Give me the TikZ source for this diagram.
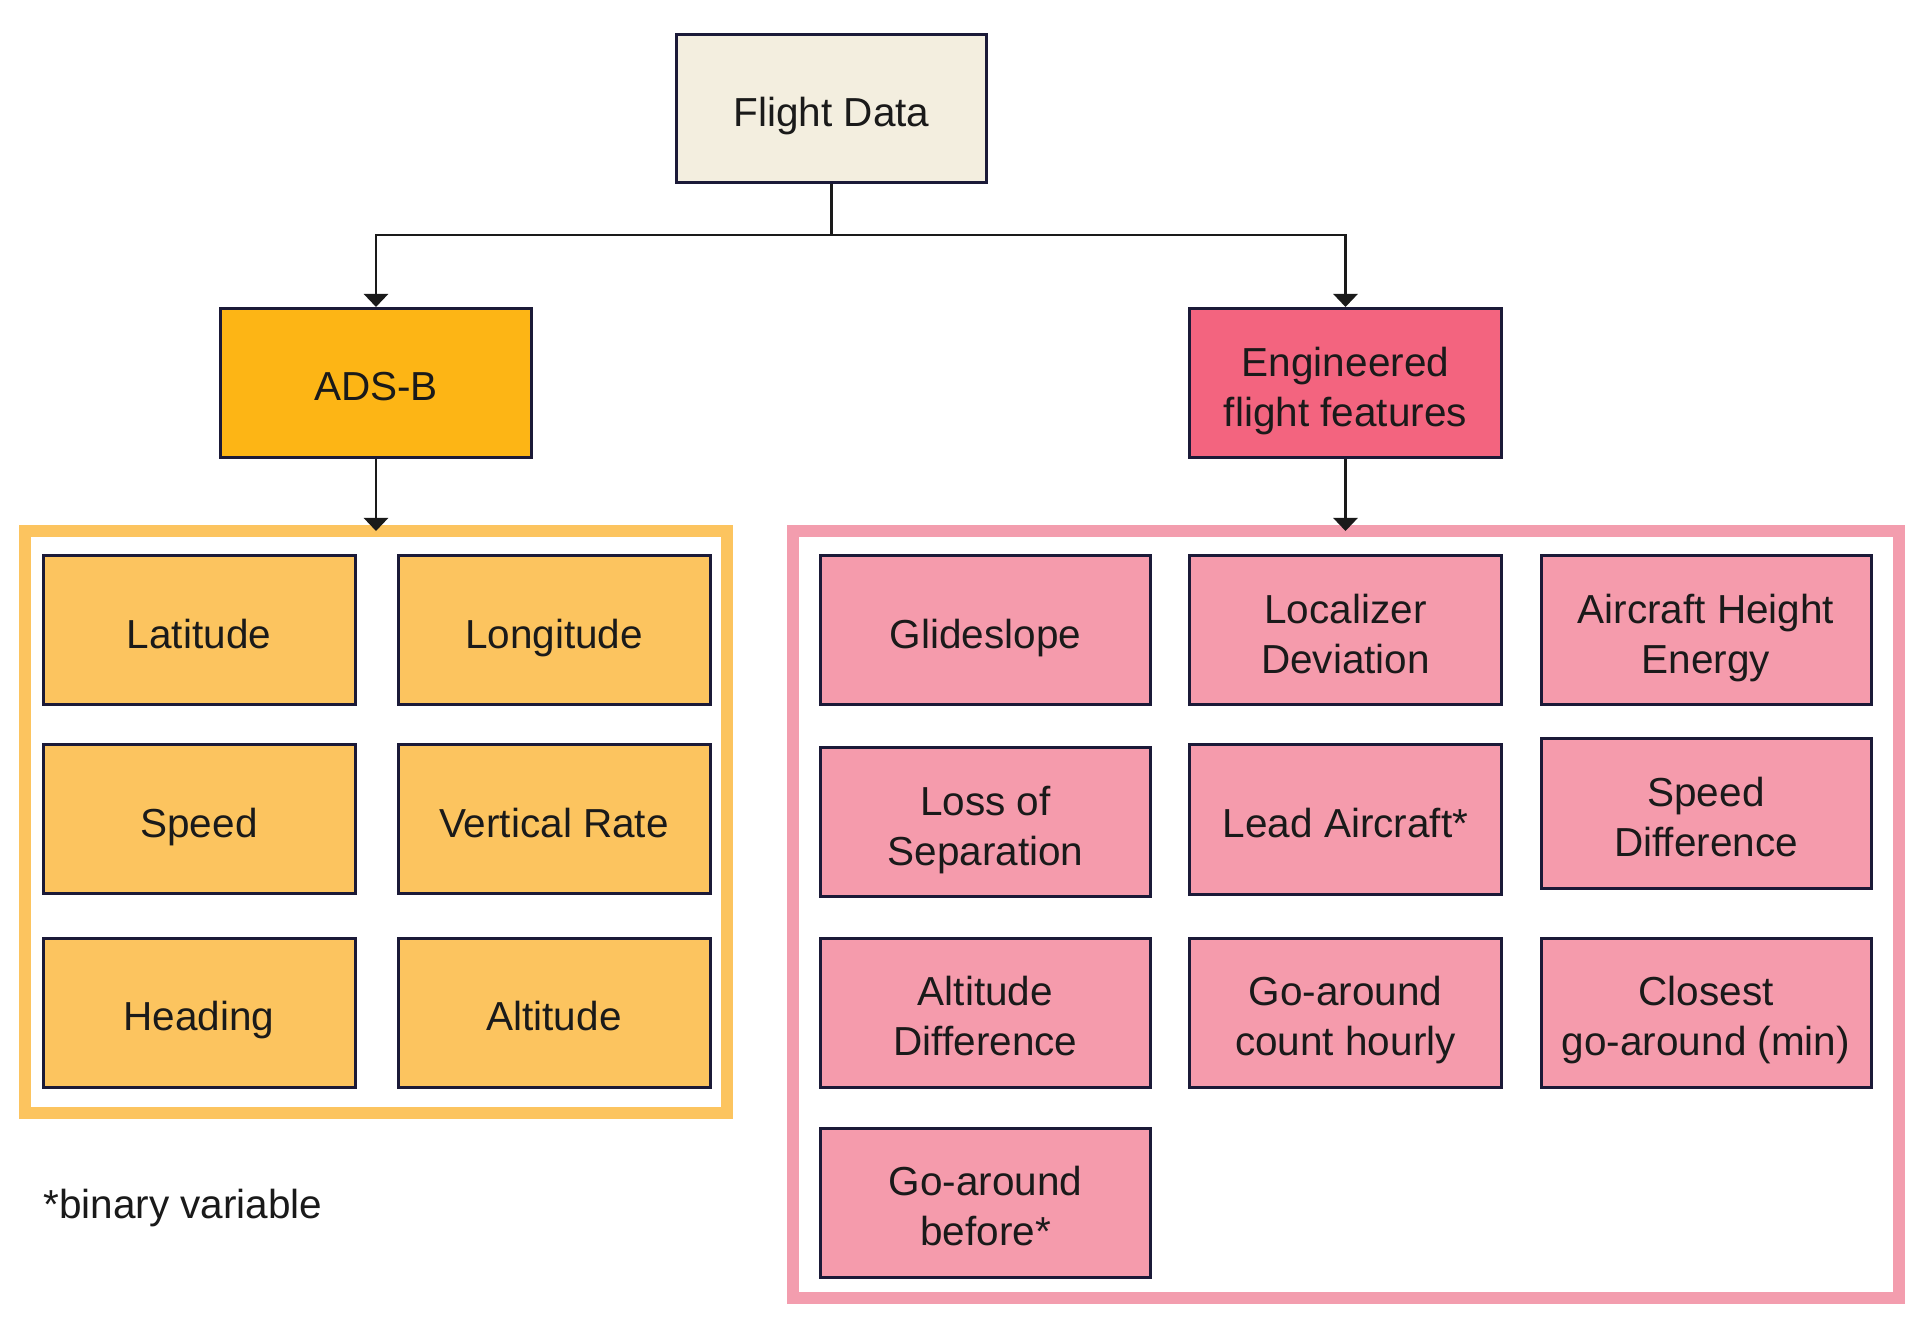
\documentclass[tikz,border=0pt]{standalone}
\usepackage{fontspec}
\setmainfont{Liberation Sans}
\usetikzlibrary{arrows.meta}
\definecolor{txt}{HTML}{1A1A1A}
\definecolor{navy}{HTML}{1B1A38}
\definecolor{beige}{HTML}{F3EEDF}
\definecolor{adsorange}{HTML}{FDB515}
\definecolor{lightorange}{HTML}{FCC45F}
\definecolor{hotpink}{HTML}{F3647F}
\definecolor{lightpink}{HTML}{F59BAC}
\definecolor{pinkframe}{HTML}{F39DAE}
\newcommand\mlines[1]{\lower3.5pt\vbox{\halign{\hfil##\hfil\cr#1\cr}}}
\begin{document}
\begin{tikzpicture}[x=0.5pt,y=-0.5pt,
  every node/.style={font=\fontsize{20.25pt}{25pt}\selectfont, text=txt},
  box/.style={draw=navy, line width=1.5pt, inner sep=0pt, minimum height=74.5pt, text depth=0pt},
  obox/.style={box, fill=lightorange, minimum width=156pt},
  pbox/.style={box, fill=lightpink, minimum width=155.5pt},
  pwbox/.style={box, fill=lightpink, minimum width=165pt},
  frame/.style={line width=6pt, inner sep=0pt, outer sep=0pt, fill=white},
  arr/.style={line width=1.35pt, draw=txt, -{Triangle[width=12pt,length=6.5pt]}},
  conn/.style={line width=1.35pt, draw=txt}]
\fill[white] (0,0) rectangle (1929,1336);
\useasboundingbox (0,0) rectangle (1929,1336);

% top level
\node[box, fill=beige, minimum width=155pt, minimum height=74pt] (fd) at (831.5,108.5) {\mlines{Flight Data}};
\node[box, fill=adsorange, minimum width=155.5pt] (ads) at (376,383) {\mlines{ADS-B}};
\node[box, fill=hotpink, minimum width=156pt] (eng) at (1345.5,383) {\mlines{Engineered\cr flight features}};

% group frames
\node[frame, draw=lightorange, minimum width=351pt, minimum height=291pt] (adsgrp) at (376,822) {};
\node[frame, draw=pinkframe, minimum width=553pt, minimum height=383.5pt] (enggrp) at (1346,914.5) {};

% connectors
\coordinate (split) at (831.5,235);
\draw[conn] (fd.south) -- (split);
\draw[arr] (split) -| (ads.north);
\draw[arr] (split) -| (eng.north);
\draw[arr] (ads.south) -- (ads.south |- adsgrp.north);
\draw[arr] (eng.south) -- (eng.south |- enggrp.north);

% ADS-B items
\node[obox] (lat) at (199,630.5) {\mlines{Latitude}};
\node[obox] (lon) at (554,630.5) {\mlines{Longitude}};
\node[obox] (spd) at (199,819) {\mlines{Speed}};
\node[obox] (vr) at (554,819) {\mlines{Vertical Rate}};
\node[obox] (hdg) at (199,1012.5) {\mlines{Heading}};
\node[obox] (alt) at (554,1012.5) {\mlines{Altitude}};

% engineered items
\node[pwbox] (gs) at (985.5,630.5) {\mlines{Glideslope}};
\node[pbox, minimum width=156pt] (loc) at (1345.5,630.5) {\mlines{Localizer\cr Deviation}};
\node[pwbox] (ahe) at (1706,630.5) {\mlines{Aircraft Height\cr Energy}};
\node[pwbox] (los) at (985.5,822) {\mlines{Loss of\cr Separation}};
\node[pbox, minimum width=156pt] (lead) at (1345.5,819.5) {\mlines{Lead Aircraft*}};
\node[pwbox] (sd) at (1706,813.5) {\mlines{Speed\cr Difference}};
\node[pwbox] (ad) at (985.5,1012.5) {\mlines{Altitude\cr Difference}};
\node[pbox, minimum width=156pt] (gac) at (1345.5,1012.5) {\mlines{Go-around\cr count hourly}};
\node[pwbox] (cga) at (1706,1012.5) {\mlines{Closest\cr go-around (min)}};
\node[pwbox] (gab) at (985.5,1202.5) {\mlines{Go-around\cr before*}};

% note
\node[anchor=base west, inner sep=0pt] (note) at (43,1218) {*binary variable};
\end{tikzpicture}
\end{document}
